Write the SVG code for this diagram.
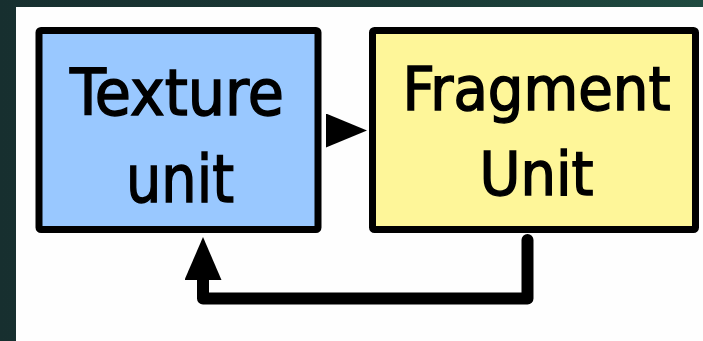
<svg xmlns="http://www.w3.org/2000/svg" width="703" height="341" viewBox="0 0 703 341">
  <defs>
    <linearGradient id="frame" x1="0" y1="0" x2="1" y2="0">
      <stop offset="0" stop-color="#172f2f"/>
      <stop offset="0.6" stop-color="#1a3a36"/>
      <stop offset="1" stop-color="#1f4a40"/>
    </linearGradient>
    <marker id="head" viewBox="0 0 43 37" refX="0" refY="18.5" markerWidth="43" markerHeight="37" markerUnits="userSpaceOnUse" orient="auto">
      <path d="M0,0 L43,18.5 L0,37 z" fill="#000"/>
    </marker>
    <marker id="headSmall" viewBox="0 0 41 34" refX="0" refY="17" markerWidth="41" markerHeight="34" markerUnits="userSpaceOnUse" orient="auto">
      <path d="M0,0 L41,17 L0,34 z" fill="#000"/>
    </marker>
  </defs>
  <style>
    .box { stroke: #000; stroke-width: 7; }
    .label { font-family: "DejaVu Sans Condensed", "DejaVu Sans", sans-serif; fill: #000; stroke: #000; stroke-width: 1.4; text-anchor: middle; }
    .wire { fill: none; stroke: #000; stroke-width: 12; stroke-linecap: round; stroke-linejoin: round; }
  </style>

  <!-- dark frame and white canvas -->
  <rect x="0" y="0" width="703" height="341" fill="url(#frame)"/>
  <rect x="16" y="7" width="687" height="334" fill="#fefefe"/>

  <g id="texture-unit">
    <rect class="box" x="39" y="30.5" width="279" height="199" rx="2" fill="#99c8ff"/>
    <text class="label" x="177" y="115" font-size="64" textLength="214" lengthAdjust="spacingAndGlyphs">Texture</text>
    <text class="label" x="180" y="201.5" font-size="66" textLength="108" lengthAdjust="spacingAndGlyphs">unit</text>
  </g>

  <g id="fragment-unit">
    <rect class="box" x="372.5" y="30.5" width="323" height="199" rx="2" fill="#fef699"/>
    <text class="label" x="536.5" y="110" font-size="60" textLength="268" lengthAdjust="spacingAndGlyphs">Fragment</text>
    <text class="label" x="536.5" y="195" font-size="60" textLength="114" lengthAdjust="spacingAndGlyphs">Unit</text>
  </g>

  <g id="connectors">
    <path d="M321.5 130.5 L326 130.5" fill="none" stroke="none" marker-end="url(#headSmall)"/>
    <path class="wire" d="M527.5 240 V298.5 H203 V280" marker-end="url(#head)"/>
  </g>
</svg>
